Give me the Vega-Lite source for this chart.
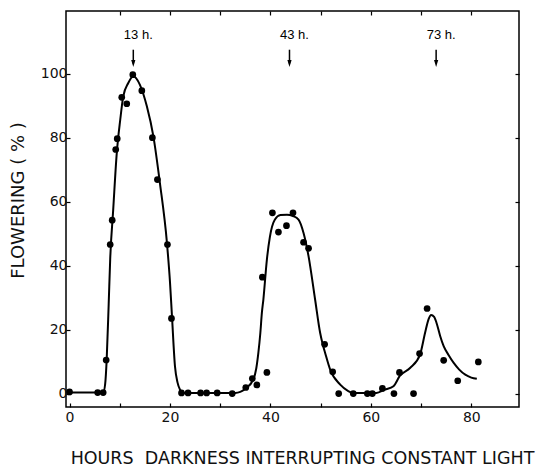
{
  "$schema": "https://vega.github.io/schema/vega-lite/v6.json",
  "width": 453,
  "height": 396,
  "autosize": {"type": "none"},
  "padding": {"left": 66, "top": 11, "right": 33, "bottom": 63},
  "background": "white",
  "config": {
    "view": {"stroke": "#000", "strokeWidth": 1.5},
    "font": "DejaVu Sans"
  },
  "datasets": {
    "pts": [
      {"hours": 0, "flowering": 0.5}, {"hours": 5.6, "flowering": 0.3}, {"hours": 6.7, "flowering": 0.3},
      {"hours": 7.3, "flowering": 10.5}, {"hours": 8.1, "flowering": 46.6}, {"hours": 8.5, "flowering": 54.2},
      {"hours": 9.2, "flowering": 76.3}, {"hours": 9.5, "flowering": 79.7}, {"hours": 10.4, "flowering": 92.6},
      {"hours": 11.4, "flowering": 90.6}, {"hours": 12.6, "flowering": 99.7}, {"hours": 14.4, "flowering": 94.7},
      {"hours": 16.5, "flowering": 80}, {"hours": 17.5, "flowering": 66.9}, {"hours": 19.5, "flowering": 46.6},
      {"hours": 20.3, "flowering": 23.5}, {"hours": 22.3, "flowering": 0.2}, {"hours": 23.6, "flowering": 0.2},
      {"hours": 26.1, "flowering": 0.2}, {"hours": 27.3, "flowering": 0.2}, {"hours": 29.4, "flowering": 0.2},
      {"hours": 32.4, "flowering": 0}, {"hours": 35.1, "flowering": 1.9}, {"hours": 36.4, "flowering": 4.7},
      {"hours": 37.3, "flowering": 2.7}, {"hours": 38.4, "flowering": 36.4}, {"hours": 39.3, "flowering": 6.6},
      {"hours": 40.4, "flowering": 56.5}, {"hours": 41.6, "flowering": 50.5}, {"hours": 43.2, "flowering": 52.5},
      {"hours": 44.5, "flowering": 56.5}, {"hours": 46.6, "flowering": 47.3}, {"hours": 47.6, "flowering": 45.4},
      {"hours": 50.8, "flowering": 15.4}, {"hours": 52.4, "flowering": 6.8}, {"hours": 53.6, "flowering": 0},
      {"hours": 56.5, "flowering": 0}, {"hours": 59.3, "flowering": 0}, {"hours": 60.3, "flowering": 0},
      {"hours": 62.3, "flowering": 1.6}, {"hours": 64.6, "flowering": 0}, {"hours": 65.7, "flowering": 6.6},
      {"hours": 68.5, "flowering": 0}, {"hours": 69.7, "flowering": 12.5}, {"hours": 71.2, "flowering": 26.6},
      {"hours": 74.5, "flowering": 10.4}, {"hours": 77.3, "flowering": 4}, {"hours": 81.4, "flowering": 9.9}
    ],
    "curve": [
      {"hours": 0, "flowering": 0.3}, {"hours": 6.7, "flowering": 0.3}, {"hours": 7.1, "flowering": 3},
      {"hours": 7.4, "flowering": 10.6}, {"hours": 7.8, "flowering": 28}, {"hours": 8.1, "flowering": 42},
      {"hours": 8.7, "flowering": 57.5}, {"hours": 9.4, "flowering": 75}, {"hours": 10.1, "flowering": 85.6},
      {"hours": 10.7, "flowering": 92.9}, {"hours": 11.7, "flowering": 97.1}, {"hours": 12.7, "flowering": 99.2},
      {"hours": 14.0, "flowering": 96.6}, {"hours": 15.4, "flowering": 89.8}, {"hours": 16.7, "flowering": 80.4},
      {"hours": 18.0, "flowering": 65.8}, {"hours": 19.4, "flowering": 47.1}, {"hours": 20.0, "flowering": 35},
      {"hours": 20.4, "flowering": 24.2}, {"hours": 21.0, "flowering": 8.5}, {"hours": 21.5, "flowering": 3.5},
      {"hours": 22.0, "flowering": 1.2}, {"hours": 22.6, "flowering": 0.2}, {"hours": 33, "flowering": 0.2},
      {"hours": 35, "flowering": 1.5}, {"hours": 36.6, "flowering": 4.4}, {"hours": 37.2, "flowering": 8},
      {"hours": 37.6, "flowering": 12.7}, {"hours": 38.0, "flowering": 19}, {"hours": 38.3, "flowering": 25.2},
      {"hours": 38.6, "flowering": 29.4}, {"hours": 39.3, "flowering": 41.9}, {"hours": 39.9, "flowering": 49},
      {"hours": 40.9, "flowering": 54.4}, {"hours": 42, "flowering": 55.8}, {"hours": 43.3, "flowering": 55.9},
      {"hours": 44.5, "flowering": 55.5}, {"hours": 45.6, "flowering": 54.4}, {"hours": 46.6, "flowering": 50.2},
      {"hours": 47.6, "flowering": 42.9}, {"hours": 48.9, "flowering": 29.4}, {"hours": 49.9, "flowering": 19},
      {"hours": 50.4, "flowering": 15.5}, {"hours": 50.9, "flowering": 12.7}, {"hours": 51.9, "flowering": 7.5},
      {"hours": 53.9, "flowering": 2.8}, {"hours": 55.5, "flowering": 0.8}, {"hours": 56.5, "flowering": 0.2},
      {"hours": 61.1, "flowering": 0.2}, {"hours": 62.8, "flowering": 1.25}, {"hours": 64.5, "flowering": 2.3},
      {"hours": 65.8, "flowering": 5.6}, {"hours": 67.8, "flowering": 8}, {"hours": 69.8, "flowering": 12.2},
      {"hours": 70.8, "flowering": 19}, {"hours": 71.5, "flowering": 23.3}, {"hours": 72.0, "flowering": 24.6},
      {"hours": 72.6, "flowering": 24}, {"hours": 73.1, "flowering": 22}, {"hours": 73.8, "flowering": 18},
      {"hours": 74.5, "flowering": 14.8}, {"hours": 75.5, "flowering": 12}, {"hours": 76.5, "flowering": 9.6},
      {"hours": 77.6, "flowering": 7.5}, {"hours": 78.8, "flowering": 5.9}, {"hours": 80, "flowering": 5},
      {"hours": 81.1, "flowering": 4.6}
    ],
    "marks": [
      {"hours": 12.7, "flowering": 103.2, "top": 107.5, "labelY": 112, "label": "13 h."},
      {"hours": 43.8, "flowering": 103.2, "top": 107.5, "labelY": 112, "label": "43 h."},
      {"hours": 73.0, "flowering": 103.2, "top": 107.5, "labelY": 112, "label": "73 h."}
    ]
  },
  "layer": [
    {
      "data": {"name": "curve"},
      "mark": {"type": "line", "color": "#000", "strokeWidth": 2, "interpolate": "monotone"},
      "encoding": {
        "x": {"field": "hours", "type": "quantitative",
          "scale": {"domain": [-0.7, 89.5], "nice": false, "zero": false},
          "axis": {"orient": "top", "labels": false, "title": null, "domain": false, "grid": false,
            "values": [10, 20, 30, 40, 50, 60, 70, 80], "tickSize": -4, "tickColor": "#000", "tickWidth": 1.2}},
        "y": {"field": "flowering", "type": "quantitative",
          "scale": {"domain": [-4.2, 119.6], "nice": false, "zero": false},
          "axis": {"orient": "right", "labels": false, "title": null, "domain": false, "grid": false,
            "values": [0, 20, 40, 60, 80, 100], "tickSize": -4, "tickColor": "#000", "tickWidth": 1.2}}
      }
    },
    {
      "data": {"name": "pts"},
      "mark": {"type": "circle", "color": "#000", "size": 45, "opacity": 1},
      "encoding": {
        "x": {"field": "hours", "type": "quantitative",
          "axis": {"orient": "bottom", "title": "HOURS\u00a0 DARKNESS INTERRUPTING CONSTANT LIGHT", "domain": false, "grid": false,
            "values": [0, 10, 20, 30, 40, 50, 60, 70, 80],
            "labelExpr": "datum.value % 20 == 0 ? datum.label : ''",
            "tickSize": -4, "tickColor": "#000", "tickWidth": 1.2,
            "labelFontSize": 14, "labelColor": "#111", "labelPadding": 7, "labelFont": "DejaVu Sans",
            "titleFontSize": 17.5, "titleFontWeight": "normal", "titleColor": "#111", "titleFont": "DejaVu Sans",
            "titleX": 236, "titleY": 56, "titleBaseline": "alphabetic", "titleAlign": "center"}},
        "y": {"field": "flowering", "type": "quantitative",
          "axis": {"orient": "left", "title": "FLOWERING\u00a0(\u00a0%\u00a0)", "domain": false, "grid": false,
            "values": [0, 20, 40, 60, 80, 100],
            "tickSize": -4, "tickColor": "#000", "tickWidth": 1.2,
            "labelFontSize": 14, "labelColor": "#111", "labelPadding": 3, "labelFont": "DejaVu Sans",
            "titleFontSize": 18, "titleFontWeight": "normal", "titleColor": "#111", "titleFont": "DejaVu Sans",
            "titleX": -48, "titleY": 189, "titleBaseline": "middle", "titleAlign": "center"}}
      }
    },
    {
      "data": {"name": "marks"},
      "mark": {"type": "rule", "color": "#000", "strokeWidth": 1.5},
      "encoding": {
        "x": {"field": "hours", "type": "quantitative", "axis": null},
        "y": {"field": "top", "type": "quantitative", "axis": null},
        "y2": {"field": "flowering"}
      }
    },
    {
      "data": {"name": "marks"},
      "mark": {"type": "point", "shape": "M-0.6,-1L0.6,-1L0,1Z", "filled": true, "color": "#000", "size": 49, "opacity": 1},
      "encoding": {
        "x": {"field": "hours", "type": "quantitative", "axis": null},
        "y": {"field": "flowering", "type": "quantitative", "axis": null}
      }
    },
    {
      "data": {"name": "marks"},
      "mark": {"type": "text", "fontSize": 13, "dx": 5, "color": "#000", "font": "Liberation Sans", "baseline": "middle"},
      "encoding": {
        "x": {"field": "hours", "type": "quantitative", "axis": null},
        "y": {"field": "labelY", "type": "quantitative", "axis": null},
        "text": {"field": "label"}
      }
    }
  ]
}
